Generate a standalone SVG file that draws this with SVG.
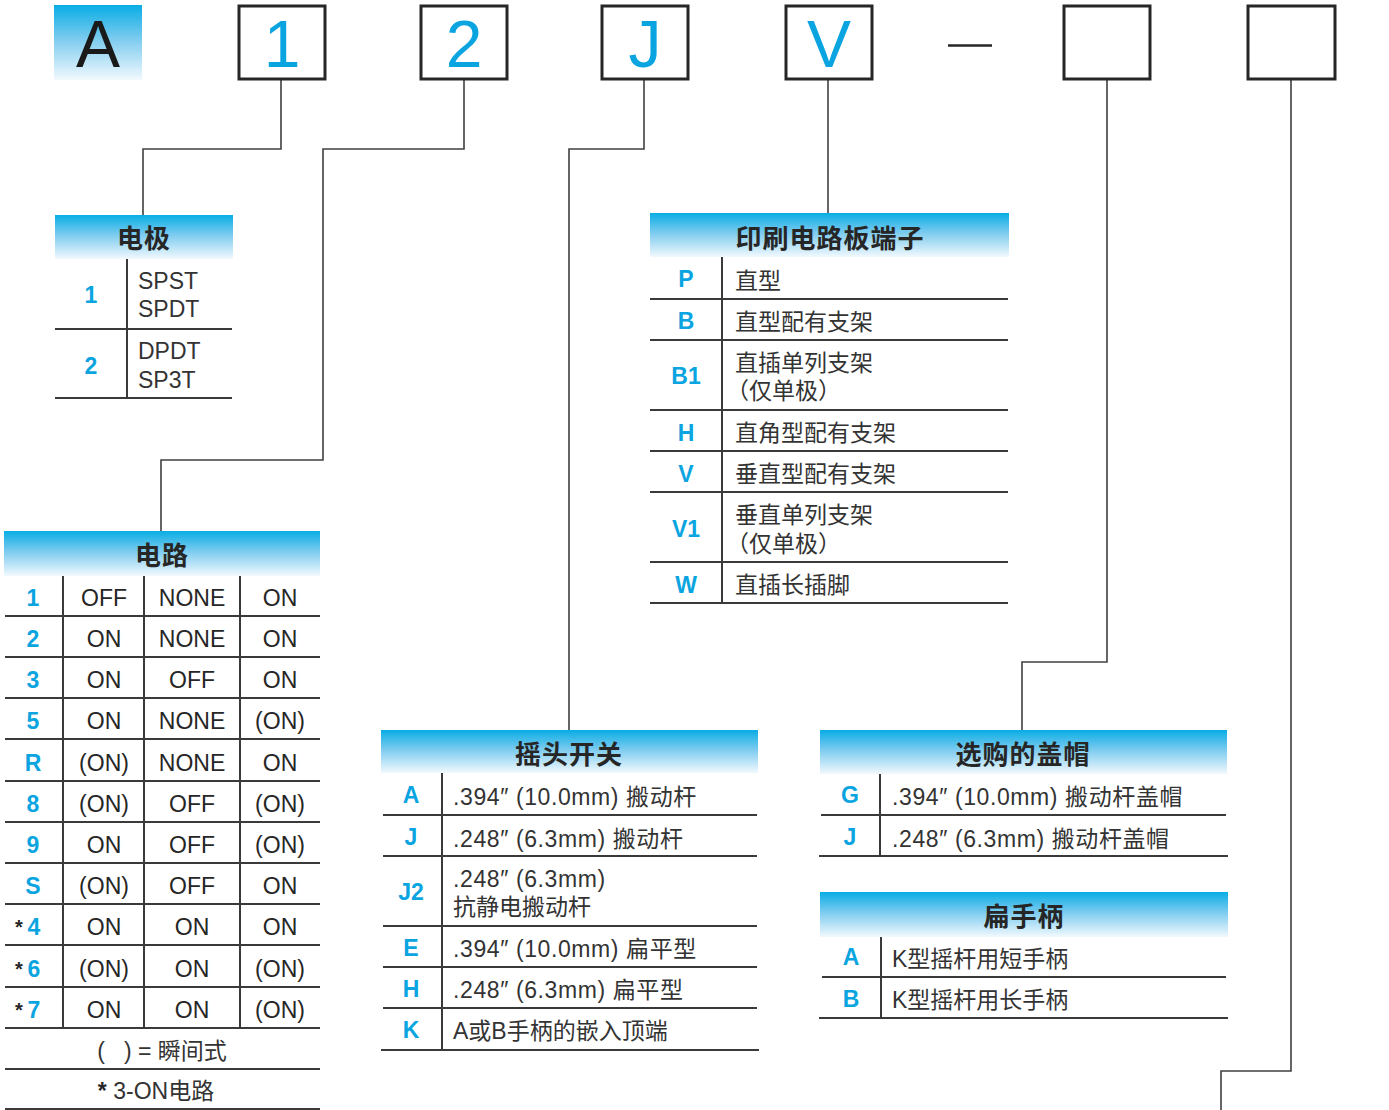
<svg xmlns="http://www.w3.org/2000/svg" width="1389" height="1110" viewBox="0 0 1389 1110">
<defs>
<linearGradient id="hg" x1="0" y1="0" x2="0" y2="1">
<stop offset="0" stop-color="#08ade5"/>
<stop offset="0.45" stop-color="#7ccbef"/>
<stop offset="1" stop-color="#f2f9fe"/>
</linearGradient>
<style>
.box{fill:#fff;stroke:#262626;stroke-width:3}
.big{font-family:"Liberation Sans","Noto Sans",sans-serif;font-size:66px;fill:#0aa5e0;text-anchor:middle}
.conn{fill:none;stroke:#404040;stroke-width:1.6}
.ln{stroke:#3a3a3a;stroke-width:2;fill:none}
.hdr{fill:url(#hg)}
.ttl{font-family:"Noto Sans CJK SC",sans-serif;font-size:26px;font-weight:bold;fill:#262626;text-anchor:middle;letter-spacing:1px}
.code{font-family:"Liberation Sans","Noto Sans",sans-serif;font-size:23px;font-weight:bold;fill:#0aa5e0;text-anchor:middle}
.cell{font-family:"Liberation Sans","Noto Sans",sans-serif;font-size:23px;fill:#262626;text-anchor:middle}
.txt{font-family:"Liberation Sans","Noto Sans CJK SC",sans-serif;font-size:23px;fill:#333}
.lat{letter-spacing:0.6px}
.ast{font-family:"Liberation Sans",sans-serif;font-size:20px;font-weight:bold;fill:#262626;text-anchor:middle}
</style>
</defs>
<rect width="1389" height="1110" fill="#fff"/>

<g id="connectors">
<polyline class="conn" points="281,79 281,149 143,149 143,215"/>
<polyline class="conn" points="464,79 464,149 323,149 323,460 161,460 161,531"/>
<polyline class="conn" points="644,79 644,149 569,149 569,730"/>
<polyline class="conn" points="828,79 828,213"/>
<polyline class="conn" points="1107,79 1107,662 1022,662 1022,730"/>
<polyline class="conn" points="1291,79 1291,1071 1221,1071 1221,1110"/>
</g>

<g id="code-A">
<rect class="hdr" x="54" y="5" width="88" height="75"/>
<text x="98" y="67" font-family="Liberation Sans,sans-serif" font-size="66" fill="#1a1a1a" text-anchor="middle">A</text>
</g>
<g id="box-1"><rect class="box" x="239" y="6" width="86" height="73"/><text class="big" x="282" y="67">1</text></g>
<g id="box-2"><rect class="box" x="421" y="6" width="86" height="73"/><text class="big" x="464" y="67">2</text></g>
<g id="box-J"><rect class="box" x="602" y="6" width="86" height="73"/><text class="big" x="645" y="67">J</text></g>
<g id="box-V"><rect class="box" x="786" y="6" width="86" height="73"/><text class="big" x="829" y="67">V</text></g>
<g id="dash"><line x1="948" y1="45.5" x2="992" y2="45.5" stroke="#262626" stroke-width="2.5"/></g>
<g id="box-6"><rect class="box" x="1064" y="6" width="86" height="73"/></g>
<g id="box-7"><rect class="box" x="1248" y="6" width="87" height="73"/></g>

<g id="table-poles">
<rect class="hdr" x="55" y="215" width="178" height="44"/>
<text class="ttl" x="144" y="248">电极</text>
<line class="ln" x1="127" y1="259" x2="127" y2="398"/>
<line class="ln" x1="55" y1="329" x2="232" y2="329"/>
<line class="ln" x1="55" y1="398" x2="232" y2="398"/>
<text class="code" x="91" y="303">1</text>
<text class="code" x="91" y="374">2</text>
<text class="txt" x="138" y="289">SPST</text>
<text class="txt" x="138" y="317">SPDT</text>
<text class="txt" x="138" y="359">DPDT</text>
<text class="txt" x="138" y="388">SP3T</text>
</g>

<g id="table-circuit">
<rect class="hdr" x="4" y="531" width="316" height="45"/>
<text class="ttl" x="162" y="565">电路</text>
<line class="ln" x1="63" y1="576" x2="63" y2="1028"/>
<line class="ln" x1="144" y1="576" x2="144" y2="1028"/>
<line class="ln" x1="240" y1="576" x2="240" y2="1028"/>
<g class="ln">
<line x1="5" y1="616" x2="320" y2="616"/>
<line x1="5" y1="657" x2="320" y2="657"/>
<line x1="5" y1="698" x2="320" y2="698"/>
<line x1="5" y1="739" x2="320" y2="739"/>
<line x1="5" y1="781" x2="320" y2="781"/>
<line x1="5" y1="822" x2="320" y2="822"/>
<line x1="5" y1="863" x2="320" y2="863"/>
<line x1="5" y1="904" x2="320" y2="904"/>
<line x1="5" y1="945" x2="320" y2="945"/>
<line x1="5" y1="987" x2="320" y2="987"/>
<line x1="5" y1="1028" x2="320" y2="1028"/>
<line x1="5" y1="1069" x2="320" y2="1069"/>
<line x1="5" y1="1109" x2="320" y2="1109"/>
</g>
<text class="code" x="33" y="606">1</text>
<text class="cell" x="104" y="606">OFF</text><text class="cell" x="192" y="606">NONE</text><text class="cell" x="280" y="606">ON</text>
<text class="code" x="33" y="647">2</text>
<text class="cell" x="104" y="647">ON</text><text class="cell" x="192" y="647">NONE</text><text class="cell" x="280" y="647">ON</text>
<text class="code" x="33" y="688">3</text>
<text class="cell" x="104" y="688">ON</text><text class="cell" x="192" y="688">OFF</text><text class="cell" x="280" y="688">ON</text>
<text class="code" x="33" y="729">5</text>
<text class="cell" x="104" y="729">ON</text><text class="cell" x="192" y="729">NONE</text><text class="cell" x="280" y="729">(ON)</text>
<text class="code" x="33" y="771">R</text>
<text class="cell" x="104" y="771">(ON)</text><text class="cell" x="192" y="771">NONE</text><text class="cell" x="280" y="771">ON</text>
<text class="code" x="33" y="812">8</text>
<text class="cell" x="104" y="812">(ON)</text><text class="cell" x="192" y="812">OFF</text><text class="cell" x="280" y="812">(ON)</text>
<text class="code" x="33" y="853">9</text>
<text class="cell" x="104" y="853">ON</text><text class="cell" x="192" y="853">OFF</text><text class="cell" x="280" y="853">(ON)</text>
<text class="code" x="33" y="894">S</text>
<text class="cell" x="104" y="894">(ON)</text><text class="cell" x="192" y="894">OFF</text><text class="cell" x="280" y="894">ON</text>
<text class="ast" x="19" y="934">*</text><text class="code" x="34" y="935">4</text>
<text class="cell" x="104" y="935">ON</text><text class="cell" x="192" y="935">ON</text><text class="cell" x="280" y="935">ON</text>
<text class="ast" x="19" y="976">*</text><text class="code" x="34" y="977">6</text>
<text class="cell" x="104" y="977">(ON)</text><text class="cell" x="192" y="977">ON</text><text class="cell" x="280" y="977">(ON)</text>
<text class="ast" x="19" y="1017">*</text><text class="code" x="34" y="1018">7</text>
<text class="cell" x="104" y="1018">ON</text><text class="cell" x="192" y="1018">ON</text><text class="cell" x="280" y="1018">(ON)</text>
<text class="txt" x="162" y="1059" text-anchor="middle" xml:space="preserve">(   ) = 瞬间式</text>
<text class="txt" x="156" y="1099" text-anchor="middle"><tspan font-weight="bold" fill="#262626">*</tspan> 3-ON电路</text>
</g>

<g id="table-pcb">
<rect class="hdr" x="650" y="213" width="359" height="44"/>
<text class="ttl" x="830" y="248">印刷电路板端子</text>
<line class="ln" x1="722" y1="257" x2="722" y2="603"/>
<g class="ln">
<line x1="650" y1="299" x2="1008" y2="299"/>
<line x1="650" y1="340" x2="1008" y2="340"/>
<line x1="650" y1="410" x2="1008" y2="410"/>
<line x1="650" y1="451" x2="1008" y2="451"/>
<line x1="650" y1="492" x2="1008" y2="492"/>
<line x1="650" y1="562" x2="1008" y2="562"/>
<line x1="650" y1="603" x2="1008" y2="603"/>
</g>
<text class="code" x="686" y="287">P</text><text class="txt" x="735" y="289">直型</text>
<text class="code" x="686" y="329">B</text><text class="txt" x="735" y="330">直型配有支架</text>
<text class="code" x="686" y="384">B1</text><text class="txt" x="735" y="371">直插单列支架</text><text class="txt" x="726" y="399">（仅单极）</text>
<text class="code" x="686" y="441">H</text><text class="txt" x="735" y="441">直角型配有支架</text>
<text class="code" x="686" y="482">V</text><text class="txt" x="735" y="482">垂直型配有支架</text>
<text class="code" x="686" y="537">V1</text><text class="txt" x="735" y="523">垂直单列支架</text><text class="txt" x="726" y="552">（仅单极）</text>
<text class="code" x="686" y="593">W</text><text class="txt" x="735" y="593">直插长插脚</text>
</g>

<g id="table-rocker">
<rect class="hdr" x="381" y="730" width="377" height="43"/>
<text class="ttl" x="569" y="764">摇头开关</text>
<line class="ln" x1="442" y1="773" x2="442" y2="1049"/>
<g class="ln">
<line x1="383" y1="815" x2="757" y2="815"/>
<line x1="383" y1="856" x2="757" y2="856"/>
<line x1="383" y1="926" x2="757" y2="926"/>
<line x1="383" y1="967" x2="757" y2="967"/>
<line x1="383" y1="1008" x2="757" y2="1008"/>
<line x1="381" y1="1050" x2="759" y2="1050"/>
</g>
<text class="code" x="411" y="803">A</text><text class="txt lat" x="453" y="805">.394″ (10.0mm) 搬动杆</text>
<text class="code" x="411" y="845">J</text><text class="txt lat" x="453" y="847">.248″ (6.3mm) 搬动杆</text>
<text class="code" x="411" y="900">J2</text><text class="txt lat" x="453" y="887">.248″ (6.3mm)</text><text class="txt" x="453" y="915">抗静电搬动杆</text>
<text class="code" x="411" y="956">E</text><text class="txt lat" x="453" y="957">.394″ (10.0mm) 扁平型</text>
<text class="code" x="411" y="997">H</text><text class="txt lat" x="453" y="998">.248″ (6.3mm) 扁平型</text>
<text class="code" x="411" y="1038">K</text><text class="txt" x="453" y="1039">A或B手柄的嵌入顶端</text>
</g>

<g id="table-caps">
<rect class="hdr" x="820" y="730" width="407" height="44"/>
<text class="ttl" x="1023" y="764">选购的盖帽</text>
<line class="ln" x1="880" y1="774" x2="880" y2="856"/>
<g class="ln">
<line x1="821" y1="815" x2="1226" y2="815"/>
<line x1="819" y1="856" x2="1228" y2="856"/>
</g>
<text class="code" x="850" y="803">G</text><text class="txt lat" x="892" y="805">.394″ (10.0mm) 搬动杆盖帽</text>
<text class="code" x="850" y="845">J</text><text class="txt lat" x="892" y="847">.248″ (6.3mm) 搬动杆盖帽</text>
</g>

<g id="table-handle">
<rect class="hdr" x="820" y="892" width="408" height="45"/>
<text class="ttl" x="1024" y="926">扁手柄</text>
<line class="ln" x1="881" y1="937" x2="881" y2="1018"/>
<g class="ln">
<line x1="822" y1="977" x2="1226" y2="977"/>
<line x1="819" y1="1018" x2="1228" y2="1018"/>
</g>
<text class="code" x="851" y="965">A</text><text class="txt" x="892" y="967">K型摇杆用短手柄</text>
<text class="code" x="851" y="1007">B</text><text class="txt" x="892" y="1008">K型摇杆用长手柄</text>
</g>
</svg>
